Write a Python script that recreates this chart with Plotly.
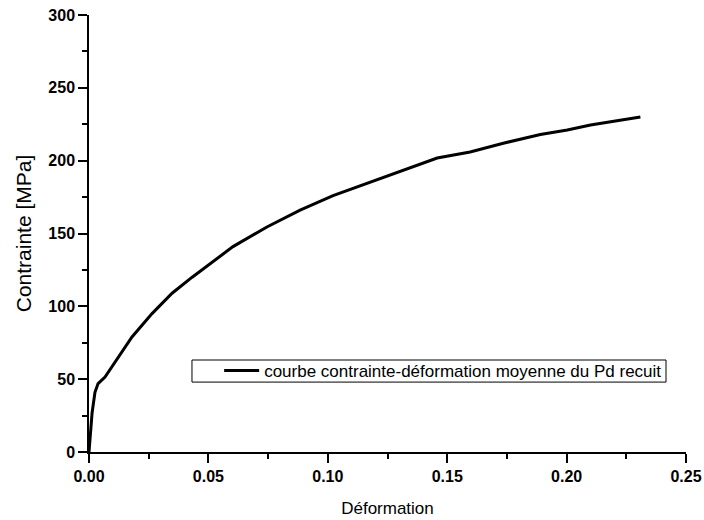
import plotly.graph_objects as go

# Strain (Déformation) and stress (Contrainte, MPa)
strain = [0.0, 0.0005, 0.0013, 0.0025, 0.0038, 0.0067, 0.0122, 0.018, 0.0264,
          0.0348, 0.0432, 0.052, 0.0603, 0.0745, 0.0884, 0.1022, 0.1206,
          0.1316, 0.1458, 0.1596, 0.1735, 0.189, 0.2003, 0.21, 0.2309]
stress = [0.0, 12.0, 27.0, 41.0, 47.0, 51.5, 65.0, 79.0, 95.0,
          109.0, 120.0, 131.0, 141.0, 154.5, 166.0, 176.0, 187.0,
          193.6, 201.8, 206.0, 212.0, 218.0, 221.0, 224.5, 230.0]

series_name = "courbe contrainte-déformation moyenne du Pd recuit"
x_title = "Déformation"
y_title = "Contrainte [MPa]"

FONT = "Arial, 'Liberation Sans', sans-serif"

fig = go.Figure()
fig.add_trace(go.Scatter(x=strain, y=stress, mode="lines", name=series_name,
                         line=dict(color="black", width=3)))

axis_common = dict(showgrid=False, zeroline=False, showline=True, automargin=False,
                   linecolor="black", linewidth=1.5, ticks="outside",
                   ticklen=9, tickwidth=1.5, tickcolor="black",
                   ticklabeloverflow="allow",
                   tickfont=dict(family=FONT, size=16, color="black", weight="bold"))

fig.update_layout(
    width=704, height=520,
    margin=dict(l=89, r=18, t=15, b=68),
    paper_bgcolor="white", plot_bgcolor="white",
    font=dict(family=FONT, color="black"),
    xaxis=dict(range=[0, 0.25], dtick=0.05, tick0=0, tickformat=".2f",
               minor=dict(ticks="outside", ticklen=5, dtick=0.025, tickwidth=1.5, tickcolor="black"),
               title=dict(text=x_title, standoff=18,
                          font=dict(family=FONT, size=17, color="black")),
               **axis_common),
    yaxis=dict(range=[0, 300], dtick=50, tick0=0,
               minor=dict(ticks="outside", ticklen=5, dtick=25, tickwidth=1.5, tickcolor="black"),
               title=dict(text=y_title, standoff=11,
                          font=dict(family=FONT, size=21, color="black")),
               **axis_common),
    showlegend=True,
    legend=dict(x=0.218, y=0.1854, xanchor="left", yanchor="middle",
                bgcolor="rgba(0,0,0,0)", borderwidth=0, itemwidth=35,
                font=dict(family=FONT, size=17, color="black")),
    shapes=[dict(type="rect", xref="paper", yref="paper",
                 x0=0.1725, x1=0.9665, y0=0.160, y1=0.2105,
                 line=dict(color="black", width=1), fillcolor="rgba(0,0,0,0)",
                 layer="below")],
)

# remove the default page margin so the 704x520 figure fills the window exactly
fig.write_html("out.html",
               config={"displayModeBar": False},
               post_script="document.body.style.margin='0';document.body.style.overflow='hidden';")
